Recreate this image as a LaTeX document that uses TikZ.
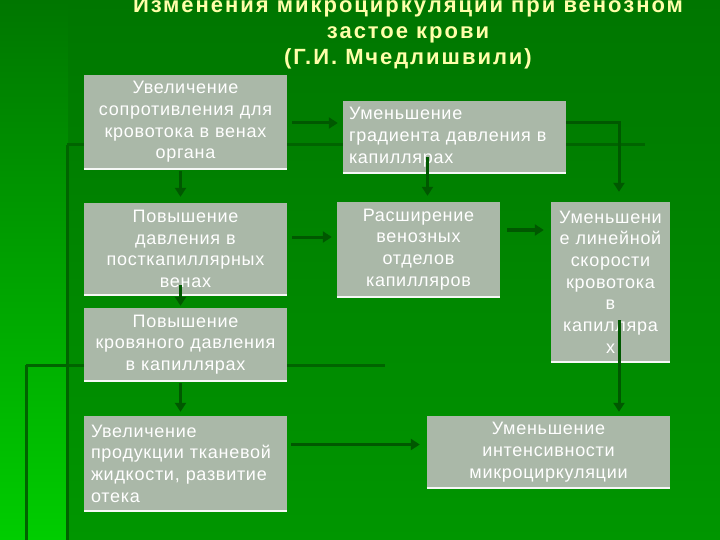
\documentclass[tikz,border=0pt]{standalone}
\usepackage{fontspec}
\setmainfont{Liberation Sans}
\newfontfamily\boxfont[LetterSpace=4]{Liberation Sans}
\newfontfamily\titlefont[LetterSpace=9]{Liberation Sans}
\usetikzlibrary{arrows.meta,calc}
\definecolor{boxfill}{RGB}{170,184,168}
\definecolor{arrowgreen}{RGB}{0,88,0}
\definecolor{decoline}{RGB}{0,100,0}
\definecolor{titlecol}{RGB}{255,255,170}
\definecolor{bgtop}{RGB}{0,118,0}
\definecolor{bgbot}{RGB}{0,150,0}
\definecolor{leftbot}{RGB}{0,205,0}
\tikzset{
  box/.style={fill=boxfill, text=white, inner sep=0pt, font=\boxfont\fontsize{18}{21.7}\selectfont},
  arr/.style={draw=arrowgreen, line width=3pt, -{Triangle[width=11pt,length=9pt]}},
  deco/.style={draw=decoline, line width=3pt},
  edge/.style={draw=white!90!boxfill, line width=2pt},
}
\begin{document}
\begin{tikzpicture}[x=1pt,y=-1pt]
\useasboundingbox (0,0) rectangle (720,540);
% background
\shade[top color=bgtop, bottom color=bgbot] (0,0) rectangle (720,540);
\shade[top color=bgtop, bottom color=leftbot] (0,0) rectangle (68,540);
\draw[deco] (67,145) -- (645,145);
\draw[deco] (67,145) -- (67,540);
\draw[deco] (26,365) -- (385,365);
\draw[deco] (26,365) -- (26,540);
% title
\node[text=titlecol, font=\titlefont\fontsize{22}{26}\selectfont\bfseries, align=center] (title) at (408,33)
  {Изменения микроциркуляции при венозном\\застое крови\\(Г.И. Мчедлишвили)};
% boxes
\node[box, minimum width=203, minimum height=94, text width=199, align=center] (b1) at (185.5,122)
  {Увеличение\\сопротивления для\\кровотока в венах\\органа};
\node[box, minimum width=203, minimum height=92, text width=199, align=center] (b2) at (185.5,249)
  {Повышение\\давления в\\посткапиллярных\\венах};
\node[box, minimum width=203, minimum height=73, text width=199, align=center] (b3) at (185.5,344.5)
  {Повышение\\кровяного давления\\в капиллярах};
\node[box, minimum width=203, minimum height=95, text width=189, align=left] (b4) at (185.5,463.5)
  {Увеличение\\продукции тканевой\\жидкости, развитие\\отека};
\node[box, minimum width=223, minimum height=72, text width=211, align=left] (b5) at (454.5,137)
  {Уменьшение\\градиента давления в\\капиллярах};
\node[box, minimum width=163, minimum height=95, text width=159, align=center] (b6) at (418.5,249.5)
  {Расширение\\венозных\\отделов\\капилляров};
\node[box, minimum width=119, minimum height=160, text width=117, align=center] (b7) at (610.5,282)
  {Уменьшени\\е линейной\\скорости\\кровотока\\в\\капилляра\\х};
\node[box, minimum width=243, minimum height=72, text width=239, align=center] (b8) at (548.5,452)
  {Уменьшение\\интенсивности\\микроциркуляции};
% white bottom edges
\foreach \n in {b1,b2,b3,b4,b5,b6,b7,b8}{
  \draw[edge] (\n.south west) -- (\n.south east);
}
% arrows
\draw[arr] ($(b1.east)+(5,1)$) -- ($(b5.west |- b1.east)+(-5,1)$);
\draw[arr] ($(b1.south)+(-5,2)$) -- ($(b2.north)+(-5,-6)$);
\draw[arr] ($(b2.east)+(5,-12)$) -- ($(b6.west |- b2.east)+(-5,-12)$);
\draw[arr] ($(b2.south)+(-5,-10)$) -- ($(b3.north)+(-5,-2)$);
\draw[arr] ($(b3.south)+(-5,2)$) -- ($(b4.north)+(-5,-4)$);
\draw[arr] ($(b4.east)+(4,-19)$) -- ($(b8.west |- b4.east)+(-7,-19)$);
\draw[arr] ($(b5.south)+(-27,-16)$) -- ($(b6.north -| b5.south)+(-27,-6)$);
\draw[arr] ($(b5.east)+(0,-14)$) -| ($(b7.north)+(8.5,-10)$);
\draw[arr] ($(b6.east)+(7,-19.5)$) -- ($(b7.west |- b6.east)+(-7,-19.5)$);
\draw[arr] ($(b7.south)+(8.5,-42)$) -- ($(b8.north -| b7.south)+(8.5,-4)$);
\end{tikzpicture}
\end{document}
